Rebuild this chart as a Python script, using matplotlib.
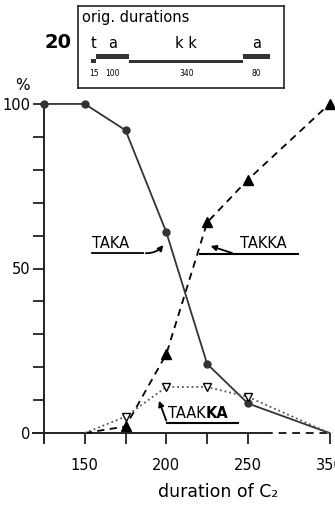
import matplotlib.pyplot as plt

# identification curves, % responses per duration of C2 (ms)
taka_dur = [125, 150, 175, 200, 225, 250, 350]
taka_pct = [100, 100, 92, 61, 21, 9, 0]

takka_dur = [150, 175, 200, 225, 250, 350]
takka_pct = [0, 2, 24, 64, 77, 100]

taakka_dur = [150, 175, 200, 225, 250, 350]
taakka_pct = [0, 5, 14, 14, 11, 0]

x_ticks = [150, 175, 200, 225, 250, 350]
x_tick_labels = ['150', '', '200', '', '250', '350']

# original stimulus segments
seg_labels = ['t', 'a', 'k k', 'a']
seg_ms = [15, 100, 340, 80]


def xpos(d):
    # the axis is broken between 250 and 350
    return d if d <= 250 else d - 50


fig = plt.figure(figsize=(3.35, 5.07), dpi=100)
W, H = 335, 507
ax = fig.add_axes([24.4 / W, (H - 449.5) / H, 310 / W, 362 / H])

ax.plot([xpos(d) for d in taka_dur], taka_pct, color='#333333', lw=1.3,
        marker='o', ms=5, markevery=[0, 1, 2, 3, 4, 5], zorder=4)
ax.plot([xpos(d) for d in takka_dur], takka_pct, color='black', lw=1.3,
        ls=(0, (4, 3)), marker='^', ms=6.5, markevery=[1, 2, 3, 4, 5], zorder=3)
ax.plot([xpos(d) for d in taakka_dur], taakka_pct, color='#555555', lw=1.3,
        ls=':', marker='v', ms=6, mfc='white', mec='black', mew=1,
        markevery=[1, 2, 3, 4], zorder=5)

ax.set_xlim(113, 303)
ax.set_ylim(-5, 105)
for s in ['top', 'right']:
    ax.spines[s].set_visible(False)
ax.spines['left'].set_position(('data', 125))
ax.spines['bottom'].set_position(('data', 0))
ax.spines['left'].set_bounds(-3, 100)
ax.spines['bottom'].set_bounds(118, 260.5)
for s in ['left', 'bottom']:
    ax.spines[s].set_linewidth(1.4)
    ax.spines[s].set_color('#222222')
# dashed piece of the x axis marks the break
ax.plot([260.5, 300], [0, 0], color='#222222', lw=1.4, ls=(0, (4, 3)),
        clip_on=False, zorder=2)

ax.set_xticks([xpos(d) for d in x_ticks])
ax.set_xticklabels(x_tick_labels)
ax.set_yticks(range(0, 101, 10))
ax.set_yticklabels(['0', '', '', '', '', '50', '', '', '', '', '100'])
ax.tick_params(axis='x', direction='out', length=8, width=1.3, pad=10,
               labelsize=10.5, color='#222222')
ax.tick_params(axis='y', direction='out', length=8, width=1.3, pad=2,
               labelsize=10.5, color='#222222')

# response labels with underline and arrow
ax.text(154.4, 56.2, 'TAKA', fontsize=10.5, va='baseline')
ax.plot([154.4, 185.7], [54.7, 54.7], color='black', lw=1.3)
ax.annotate('', xy=(199.2, 57.8), xytext=(185.7, 54.7),
            arrowprops=dict(arrowstyle='-|>', color='black', lw=1.3,
                            mutation_scale=8,
                            connectionstyle='arc3,rad=0.3'))

ax.text(245.2, 56.2, 'TAKKA', fontsize=10.5, va='baseline')
ax.plot([220.6, 280.7], [54.4, 54.4], color='black', lw=1.5)
ax.annotate('', xy=(225.5, 57.1), xytext=(242.1, 54.4),
            arrowprops=dict(arrowstyle='-|>', color='black', lw=1.3,
                            mutation_scale=8))

t1 = ax.text(201.0, 4.6, 'TAAK', fontsize=10.5, va='baseline')
ax.annotate('KA', xy=(1, 0), xycoords=t1, fontsize=10.5, fontweight='bold',
            va='bottom', ha='left')
ax.plot([200.5, 243.9], [3.0, 3.0], color='black', lw=1.5)
ax.annotate('', xy=(194.9, 10.6), xytext=(200.5, 3.0),
            arrowprops=dict(arrowstyle='-|>', color='black', lw=1.3,
                            mutation_scale=8))

fig.text(22 / W, 1 - 85 / H, '%', fontsize=11, ha='center', va='center')
fig.text(218 / W, 1 - 492 / H, 'duration of C₂', fontsize=12.5,
         ha='center', va='center')
fig.text(58 / W, 1 - 43 / H, '20', fontsize=14, fontweight='bold',
         ha='center', va='center')

# inset: original segment durations
ins = fig.add_axes([78 / W, 1 - 88 / H, 206 / W, 82 / H])
ins.set_xlim(-38.9, 576.8)
ins.set_ylim(82, 0)
ins.set_xticks([])
ins.set_yticks([])
for s in ins.spines.values():
    s.set_linewidth(1.2)
    s.set_color('#222222')

seg_tops = [53, 48, 54, 48]
seg_bottoms = [57, 53, 57, 53]
start = 0
for lab, ms, top, bot in zip(seg_labels, seg_ms, seg_tops, seg_bottoms):
    ins.bar(start, bot - top, width=ms, bottom=top, align='edge',
            color='#333333', edgecolor='none')
    mid = start + ms / 2
    ins.text(mid, 37, lab, fontsize=10.5, ha='center', va='center')
    ins.text(mid, 67, str(ms), fontsize=5.5, ha='center', va='center')
    start += ms

ins.text(-27, 11, 'orig. durations', fontsize=10.5, ha='left', va='center')

fig.savefig('out.png', dpi=100)
